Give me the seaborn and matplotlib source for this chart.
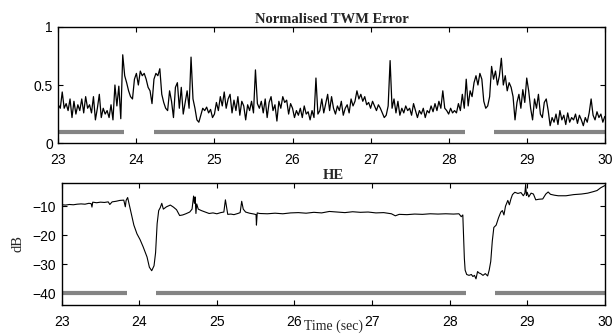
import numpy as np
import pandas as pd
import matplotlib
matplotlib.use("Agg")
import matplotlib.pyplot as plt
import seaborn as sns

# ---------------- data ----------------
twm_t0 = 23.0
twm_dt = 0.025
twm_err = [
    # 23.0 - 24.0
    0.33, 0.30, 0.44, 0.30, 0.34, 0.28, 0.38, 0.22, 0.36, 0.25,
    0.33, 0.28, 0.38, 0.26, 0.40, 0.30, 0.33, 0.26, 0.40, 0.20,
    0.30, 0.42, 0.22, 0.30, 0.25, 0.28, 0.22, 0.33, 0.20, 0.50,
    0.32, 0.49, 0.21, 0.76, 0.58, 0.52, 0.45, 0.40, 0.38, 0.55,
    # 24.0 - 25.0
    0.60, 0.50, 0.62, 0.58, 0.60, 0.55, 0.48, 0.45, 0.34, 0.55,
    0.60, 0.58, 0.64, 0.42, 0.35, 0.30, 0.28, 0.45, 0.36, 0.22,
    0.48, 0.52, 0.30, 0.48, 0.25, 0.35, 0.45, 0.30, 0.74, 0.38,
    0.30, 0.20, 0.18, 0.24, 0.30, 0.28, 0.31, 0.26, 0.29, 0.22,
    # 25.0 - 26.0
    0.25, 0.35, 0.28, 0.40, 0.32, 0.44, 0.30, 0.38, 0.42, 0.26,
    0.37, 0.28, 0.40, 0.24, 0.36, 0.32, 0.20, 0.33, 0.28, 0.36,
    0.26, 0.63, 0.34, 0.30, 0.36, 0.26, 0.38, 0.22, 0.35, 0.40,
    0.28, 0.33, 0.19, 0.36, 0.30, 0.40, 0.35, 0.37, 0.25, 0.34,
    # 26.0 - 27.0
    0.30, 0.22, 0.28, 0.24, 0.30, 0.22, 0.32, 0.25, 0.27, 0.20,
    0.28, 0.22, 0.56, 0.25, 0.28, 0.38, 0.26, 0.34, 0.42, 0.28,
    0.40, 0.30, 0.25, 0.32, 0.28, 0.36, 0.24, 0.30, 0.33, 0.26,
    0.38, 0.32, 0.36, 0.45, 0.38, 0.42, 0.36, 0.40, 0.33, 0.35,
    # 27.0 - 28.0
    0.30, 0.36, 0.32, 0.28, 0.33, 0.30, 0.26, 0.22, 0.24, 0.32,
    0.71, 0.30, 0.38, 0.26, 0.36, 0.24, 0.30, 0.26, 0.32, 0.28,
    0.30, 0.24, 0.34, 0.28, 0.22, 0.28, 0.25, 0.30, 0.22, 0.28,
    0.26, 0.32, 0.27, 0.34, 0.28, 0.36, 0.30, 0.45, 0.30, 0.28,
    # 28.0 - 29.0
    0.25, 0.30, 0.26, 0.28, 0.26, 0.34, 0.28, 0.42, 0.30, 0.55,
    0.32, 0.45, 0.40, 0.52, 0.58, 0.50, 0.60, 0.55, 0.36, 0.30,
    0.32, 0.40, 0.66, 0.55, 0.62, 0.50, 0.58, 0.73, 0.50, 0.58,
    0.45, 0.52, 0.48, 0.40, 0.20, 0.35, 0.42, 0.30, 0.46, 0.35,
    # 29.0 - 30.0
    0.56, 0.45, 0.30, 0.20, 0.38, 0.30, 0.42, 0.25, 0.22, 0.35,
    0.38, 0.28, 0.15, 0.22, 0.18, 0.25, 0.16, 0.28, 0.20, 0.24,
    0.16, 0.26, 0.18, 0.22, 0.20, 0.25, 0.17, 0.24, 0.20, 0.15,
    0.22, 0.18, 0.26, 0.38, 0.24, 0.20, 0.27, 0.22, 0.25, 0.18,
    0.23,
]

he_t = [
    23.00, 23.05, 23.10, 23.15, 23.20, 23.25, 23.30, 23.35, 23.38, 23.39,
    23.40, 23.45, 23.50, 23.55, 23.60, 23.62, 23.65, 23.70, 23.75, 23.80,
    23.82, 23.83, 23.85, 23.88, 23.93, 23.97, 24.01, 24.05, 24.10, 24.13,
    24.16, 24.19, 24.21, 24.23, 24.25, 24.27, 24.29, 24.31, 24.35, 24.40,
    24.44, 24.48, 24.52, 24.56, 24.60, 24.65, 24.68, 24.70, 24.71, 24.72,
    24.73, 24.74, 24.76, 24.80, 24.85, 24.90, 24.95, 25.00, 25.05, 25.09,
    25.11, 25.12, 25.14, 25.18, 25.22, 25.27, 25.30, 25.32, 25.34, 25.37,
    25.42, 25.48, 25.505, 25.51, 25.52, 25.55, 25.65, 25.75, 25.85, 25.95,
    26.05, 26.15, 26.25, 26.35, 26.45, 26.55, 26.65, 26.75, 26.85, 26.95,
    27.05, 27.15, 27.25, 27.30, 27.35, 27.45, 27.55, 27.65, 27.75, 27.85,
    27.95, 28.05, 28.12, 28.15, 28.17, 28.18, 28.19, 28.20, 28.22, 28.25,
    28.28, 28.30, 28.32, 28.34, 28.36, 28.38, 28.40, 28.43, 28.46, 28.49,
    28.51, 28.53, 28.55, 28.57, 28.60, 28.63, 28.66, 28.68, 28.70, 28.72,
    28.75, 28.77, 28.79, 28.81, 28.84, 28.88, 28.92, 28.95, 28.97, 28.98,
    28.99, 29.00, 29.02, 29.05, 29.08, 29.11, 29.15, 29.20, 29.24, 29.27,
    29.30, 29.35, 29.40, 29.50, 29.60, 29.70, 29.78, 29.85, 29.90, 29.95,
    30.00,
]
he_db = [
    -9.5, -9.6, -9.4, -9.5, -9.3, -9.2, -9.3, -9.0, -9.1, -10.3,
    -8.6, -8.8, -8.6, -8.7, -8.5, -9.4, -8.5, -8.3, -8.0, -7.9,
    -10.2, -8.0, -7.0, -10.5, -16.5, -19.5, -21.5, -24.0, -27.5, -31.0,
    -32.2, -30.5, -26.0, -16.0, -11.5, -10.5, -9.0, -11.0, -10.2, -9.6,
    -10.3, -11.2, -13.2, -13.0, -12.6, -12.0, -11.0, -6.5, -9.0, -6.8,
    -12.5, -9.2, -11.0, -11.5, -12.0, -12.5, -12.3, -12.6, -12.2, -12.0,
    -7.8, -9.5, -12.8, -12.7, -12.9, -12.5, -12.2, -8.3, -11.0, -12.0,
    -12.4, -12.7, -12.9, -16.5, -12.3, -12.5, -12.6, -12.4, -12.6, -12.3,
    -12.2, -12.4, -12.1, -12.3, -11.8, -12.0, -12.2, -11.9, -12.1, -12.0,
    -12.3, -12.2, -12.6, -13.3, -12.8, -12.9, -12.7, -12.8, -12.6, -12.7,
    -12.6, -12.7, -12.6, -13.6, -13.0, -20.0, -28.0, -32.0, -33.5, -33.8,
    -33.5, -34.2, -33.8, -35.0, -32.5, -33.0, -33.2, -33.8, -33.2, -34.0,
    -32.0, -29.0, -22.0, -17.3, -16.5, -14.0, -12.0, -11.5, -13.0, -10.0,
    -8.0, -9.5, -7.5, -6.0, -5.2, -5.6, -5.3, -6.4, -5.5, -2.5,
    -6.3, -5.2, -6.8, -5.5, -5.8, -7.8, -7.6, -7.5, -5.8, -5.1,
    -5.9, -6.2, -6.4, -6.4, -6.0, -5.8, -5.5, -5.0, -4.6, -3.6,
    -2.9,
]

seg_start = [23.0, 24.22, 28.58]
seg_end = [23.84, 28.21, 30.0]
seg_level_top = 0.1
seg_level_bottom = -40

x_ticks = [23, 24, 25, 26, 27, 28, 29, 30]
top_yticks = [0, 0.5, 1]
top_yticklabels = ["0", "0.5", "1"]
bot_yticks = [-40, -30, -20, -10]
bot_yticklabels = ["\u221240", "\u221230", "\u221220", "\u221210"]

top_title = "Normalised TWM Error"
bot_title = "HE"
bot_ylabel = "dB"
bot_xlabel = "Time (sec)"

# ---------------- frames ----------------
twm_df = pd.DataFrame({
    "t": twm_t0 + twm_dt * np.arange(len(twm_err)),
    "v": twm_err,
})
he_df = pd.DataFrame({"t": he_t, "v": he_db})


def seg_frame(level):
    rows = []
    for i, (s, e) in enumerate(zip(seg_start, seg_end)):
        rows.append({"seg": i, "t": s, "v": level})
        rows.append({"seg": i, "t": e, "v": level})
    return pd.DataFrame(rows)


# ---------------- plot ----------------
sns.set_style("ticks")
plt.rcParams["font.family"] = ["Liberation Sans", "DejaVu Sans"]
plt.rcParams["xtick.direction"] = "in"
plt.rcParams["ytick.direction"] = "in"

fig = plt.figure(figsize=(6.14, 3.36), dpi=100)
ax1 = fig.add_axes([0.095, 0.574, 0.890, 0.346])
ax2 = fig.add_axes([0.1005, 0.0923, 0.8845, 0.3631])

GRAY = "#848484"

sns.lineplot(data=seg_frame(seg_level_top), x="t", y="v", units="seg",
             estimator=None, color=GRAY, linewidth=3.0, solid_capstyle="butt",
             ax=ax1)
sns.lineplot(data=twm_df, x="t", y="v", color="black", linewidth=0.9, ax=ax1)

sns.lineplot(data=seg_frame(seg_level_bottom), x="t", y="v", units="seg",
             estimator=None, color=GRAY, linewidth=3.0, solid_capstyle="butt",
             ax=ax2)
sns.lineplot(data=he_df, x="t", y="v", color="black", linewidth=0.8, ax=ax2)

ax1.set_xlim(23, 30)
ax1.set_ylim(0, 1)
ax2.set_xlim(23, 30)
ax2.set_ylim(-44, -2)

for ax in (ax1, ax2):
    ax.set_xticks(x_ticks)
    ax.set_xticklabels([str(v) for v in x_ticks])
    ax.tick_params(axis="both", which="both", direction="in", length=3.5,
                   width=0.8, top=True, right=True, labelsize=10,
                   colors="black")
    ax.tick_params(axis="x", pad=7)
    ax.tick_params(axis="y", pad=4)
    for sp in ax.spines.values():
        sp.set_visible(True)
        sp.set_linewidth(1.0)
        sp.set_color("black")
    ax.set_xlabel("")
    ax.set_ylabel("")

ax1.set_yticks(top_yticks)
ax1.set_yticklabels(top_yticklabels)
ax2.set_yticks(bot_yticks)
ax2.set_yticklabels(bot_yticklabels)

serif = ["Liberation Serif", "DejaVu Serif"]
ax1.set_title(top_title, fontsize=10.5, fontweight="bold", family=serif, pad=3)
ax2.set_title(bot_title, fontsize=10.5, fontweight="bold", family=serif, pad=3)
ax2.set_ylabel(bot_ylabel, fontsize=10.5, family=serif, labelpad=6)
ax2.set_xlabel(bot_xlabel, fontsize=10, family=serif)
ax2.xaxis.set_label_coords(0.5, -0.123)

fig.savefig("out.png", dpi=100)
